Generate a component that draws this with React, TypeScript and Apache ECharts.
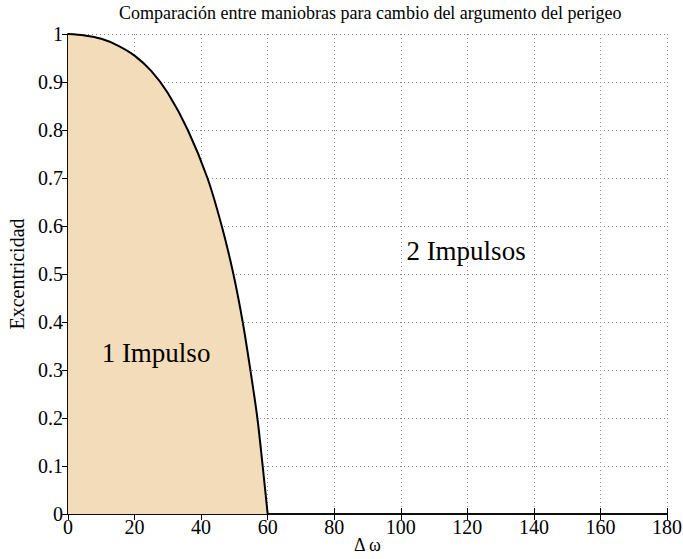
import React, { useEffect, useRef } from "react";
import * as echarts from "echarts";

const deltaOmega = [0, 5, 10, 15, 20, 25, 30, 36, 41.9, 46.2, 49.7, 52.5, 54.8, 56.9, 58.5, 60];
const eccentricity = [1, 0.997, 0.99, 0.976, 0.955, 0.923, 0.877, 0.8, 0.7, 0.6, 0.5, 0.4, 0.3, 0.2, 0.1, 0];
const titleText = "Comparación entre maniobras para cambio del argumento del perigeo";
const xName = "Δ ω";
const yName = "Excentricidad";
const regionLabels = ["1 Impulso", "2 Impulsos"];

const FONT = "Liberation Serif";

export default function App() {
  const ref = useRef<HTMLDivElement>(null);
  useEffect(() => {
    if (!ref.current) return;
    const chart = echarts.init(ref.current, null, { renderer: "svg" });
    const data = deltaOmega.map((x, i) => [x, eccentricity[i]]);
    const tickCommon = { show: true, inside: true, length: 6, lineStyle: { color: "#000", width: 1 } };
    const lineCommon = { show: true, lineStyle: { color: "#000", width: 1.5 } };
    const labelStyle = { fontFamily: FONT, fontSize: 20, color: "#000", fontWeight: "normal" };
    const gridLine = { show: true, lineStyle: { color: "#8a8a8a", type: [1, 3], width: 1 } };
    chart.setOption({
      animation: false,
      backgroundColor: "#fff",
      textStyle: { fontFamily: FONT },
      title: {
        text: titleText,
        left: 119,
        top: 4,
        padding: 0,
        textStyle: { fontFamily: FONT, fontWeight: "normal", fontSize: 18, color: "#000" },
      },
      grid: {
        left: 68,
        top: 34,
        width: 599,
        height: 480,
        containLabel: false,
        outerBoundsMode: "none",
      },
      xAxis: [
        {
          type: "value",
          min: 0,
          max: 180,
          interval: 20,
          name: xName,
          nameLocation: "middle",
          nameGap: 22,
          nameMoveOverlap: false,
          nameTextStyle: { fontFamily: FONT, fontSize: 18, color: "#000", lineHeight: 18 },
          axisLine: lineCommon,
          axisTick: tickCommon,
          axisLabel: { ...labelStyle, margin: 3 },
          splitLine: gridLine,
        },
        {
          type: "value",
          position: "top",
          min: 0,
          max: 180,
          interval: 20,
          axisLine: lineCommon,
          axisTick: tickCommon,
          axisLabel: { show: false },
          splitLine: { show: false },
        },
      ],
      yAxis: [
        {
          type: "value",
          min: 0,
          max: 1,
          interval: 0.1,
          name: yName,
          nameLocation: "middle",
          nameGap: 30,
          nameTextStyle: { fontFamily: FONT, fontSize: 20, color: "#000" },
          axisLine: lineCommon,
          axisTick: tickCommon,
          axisLabel: { ...labelStyle, margin: 5 },
          splitLine: gridLine,
        },
        {
          type: "value",
          position: "right",
          min: 0,
          max: 1,
          interval: 0.1,
          axisLine: lineCommon,
          axisTick: tickCommon,
          axisLabel: { show: false },
          splitLine: { show: false },
        },
      ],
      series: [
        {
          type: "line",
          data,
          smooth: 0.3,
          symbol: "none",
          lineStyle: { color: "#000", width: 2 },
          areaStyle: { color: "#f2dcb9", opacity: 1 },
          z: 3,
        },
      ],
      graphic: [
        {
          type: "text",
          x: 156,
          y: 353,
          style: {
            text: regionLabels[0],
            fontFamily: FONT,
            fontSize: 27,
            fill: "#000",
            align: "center",
            verticalAlign: "middle",
          },
          z: 10,
        },
        {
          type: "text",
          x: 466,
          y: 251,
          style: {
            text: regionLabels[1],
            fontFamily: FONT,
            fontSize: 27,
            fill: "#000",
            align: "center",
            verticalAlign: "middle",
          },
          z: 10,
        },
      ],
    });
    return () => chart.dispose();
  }, []);
  return (
    <div
      ref={ref}
      style={{ position: "fixed", left: 0, top: 0, width: 683, height: 559 }}
    />
  );
}
